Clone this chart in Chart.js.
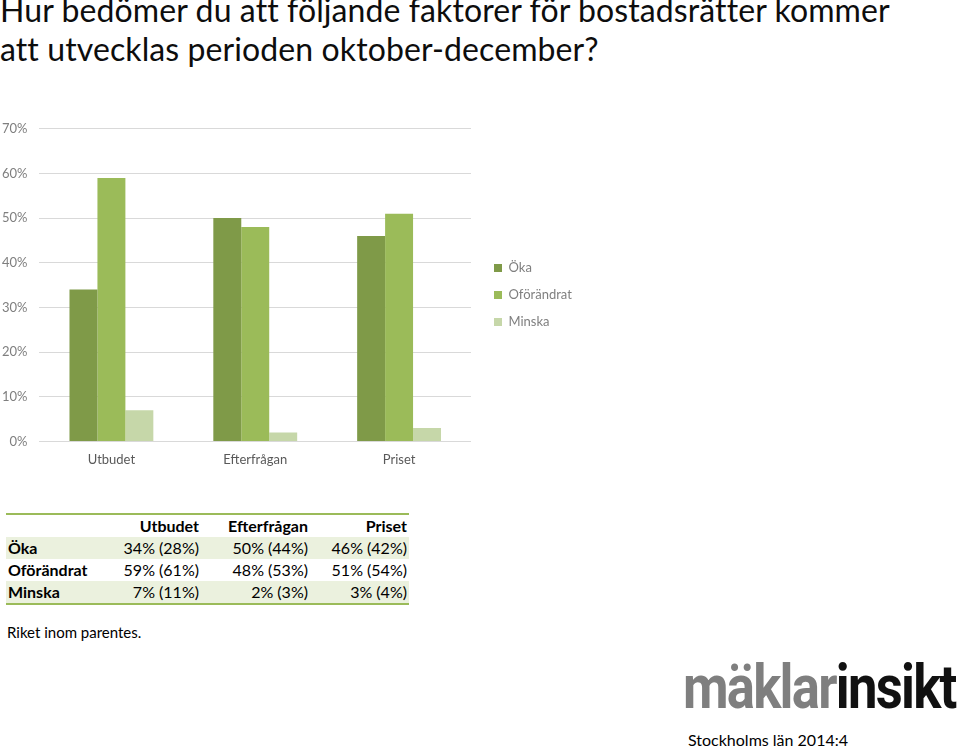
<!DOCTYPE html>
<html lang="sv">
<head>
<meta charset="utf-8">
<script src="https://cdn.jsdelivr.net/npm/chart.js@4.4.1/dist/chart.umd.min.js"></script>
<style>
  body { margin: 0; width: 960px; height: 748px; background: #fff; position: relative; overflow: hidden; font-family: Lato, "Open Sans", sans-serif; }
  #title { position: absolute; left: 0; top: -10px; font-size: 32px; font-weight: 400; color: #0d0d0d; line-height: 39px; letter-spacing: 0.1px; white-space: nowrap; }
  #chartBox { position: absolute; left: -10px; top: 109px; width: 608px; height: 362px; }
  #tbl { position: absolute; left: 6px; top: 513px; border-collapse: collapse; table-layout: fixed; font-size: 16px; color: #000; }
  #tbl { border-top: 2px solid #9bbb59; border-bottom: 2px solid #9bbb59; }
  #tbl td, #tbl th { padding: 0 2px; height: 22px; line-height: 22px; text-align: right; white-space: nowrap; }
  #tbl th { font-weight: 700; }
  #tbl td.lbl { text-align: left; font-weight: 700; }
  #tbl tr.shade { background: #ebf1de; }
  #note { position: absolute; left: 7px; top: 623px; font-size: 15px; }
  #logo { position: absolute; left: 683px; top: 657px; font-family: Roboto, sans-serif; font-weight: 700; font-size: 61px; line-height: 1; letter-spacing: -2px; transform: scaleX(0.862); transform-origin: left top; white-space: nowrap; }
  #logo .a { color: #7f7f7f; } #logo .b { color: #111; }
  #src { position: absolute; left: 688px; top: 730px; font-size: 16px; }
</style>
</head>
<body>
<div id="title">Hur bedömer du att följande faktorer för bostadsrätter kommer<br>att utvecklas perioden oktober-december?</div>
<div id="chartBox"><canvas id="c"></canvas></div>
<table id="tbl"></table>
<div id="note">Riket inom parentes.</div>
<div id="logo"><span class="a">mäklar</span><span class="b">insikt</span></div>
<div id="src">Stockholms län 2014:4</div>
<script>
// Data
const categories = ['Utbudet', 'Efterfrågan', 'Priset'];
const seriesNames = ['Öka', 'Oförändrat', 'Minska'];
const oka = [34, 50, 46];
const oforandrat = [59, 48, 51];
const minska = [7, 2, 3];
// Riket (in parentheses in the table)
const okaRiket = [28, 44, 42];
const oforandratRiket = [61, 53, 54];
const minskaRiket = [11, 3, 4];
const yTicks = [0, 10, 20, 30, 40, 50, 60, 70];

const colors = ['#7f9a48', '#9bbb59', '#c6d7a9'];

// Table
const tbl = document.getElementById('tbl');
const colWidths = [108, 87, 109, 99];
const rows = [[oka, okaRiket], [oforandrat, oforandratRiket], [minska, minskaRiket]];
let html = '<colgroup>' + colWidths.map(w => `<col style="width:${w}px">`).join('') + '</colgroup>';
html += '<tr><th></th>' + categories.map(c => `<th>${c}</th>`).join('') + '</tr>';
rows.forEach((r, i) => {
    html += `<tr class="${i !== 1 ? 'shade' : ''}"><td class="lbl">${seriesNames[i]}</td>` +
        r[0].map((v, j) => `<td>${v}% (${r[1][j]}%)</td>`).join('') + '</tr>';
});
tbl.innerHTML = html;

// Chart
new Chart(document.getElementById('c'), {
    type: 'bar',
    data: {
        labels: categories,
        datasets: [oka, oforandrat, minska].map((d, i) => ({
            label: seriesNames[i],
            data: d,
            backgroundColor: colors[i],
            borderWidth: 0
        }))
    },
    options: {
        responsive: true,
        maintainAspectRatio: false,
        animation: false,
        categoryPercentage: 0.583,
        barPercentage: 1,
        layout: { padding: { left: 0, right: 20, top: 6, bottom: 0 } },
        scales: {
            y: {
                min: 0, max: 70,
                afterBuildTicks: axis => { axis.ticks = yTicks.map(v => ({ value: v })); },
                ticks: { callback: v => v + '%', color: '#7f7f7f', font: { family: 'Lato', size: 13 }, padding: 12 },
                grid: { color: '#d9d9d9', drawTicks: false },
                border: { display: false }
            },
            // spacer between the plot and the legend
            gap: {
                type: 'linear', position: 'right', display: true,
                ticks: { display: false }, grid: { display: false }, border: { display: false },
                afterFit: axis => { axis.width = 9; }
            },
            x: {
                ticks: { color: '#595959', font: { family: 'Lato', size: 13 }, padding: 3 },
                grid: { display: false },
                border: { display: false }
            }
        },
        plugins: {
            legend: {
                position: 'right',
                // empty title only nudges the items down a little
                title: { display: true, text: '', font: { size: 4, lineHeight: 1 }, padding: 0 },
                labels: { boxWidth: 8, boxHeight: 8, padding: 14, color: '#7f7f7f', font: { family: 'Lato', size: 13 } }
            },
            tooltip: { enabled: false }
        }
    }
});
</script>
</body>
</html>
